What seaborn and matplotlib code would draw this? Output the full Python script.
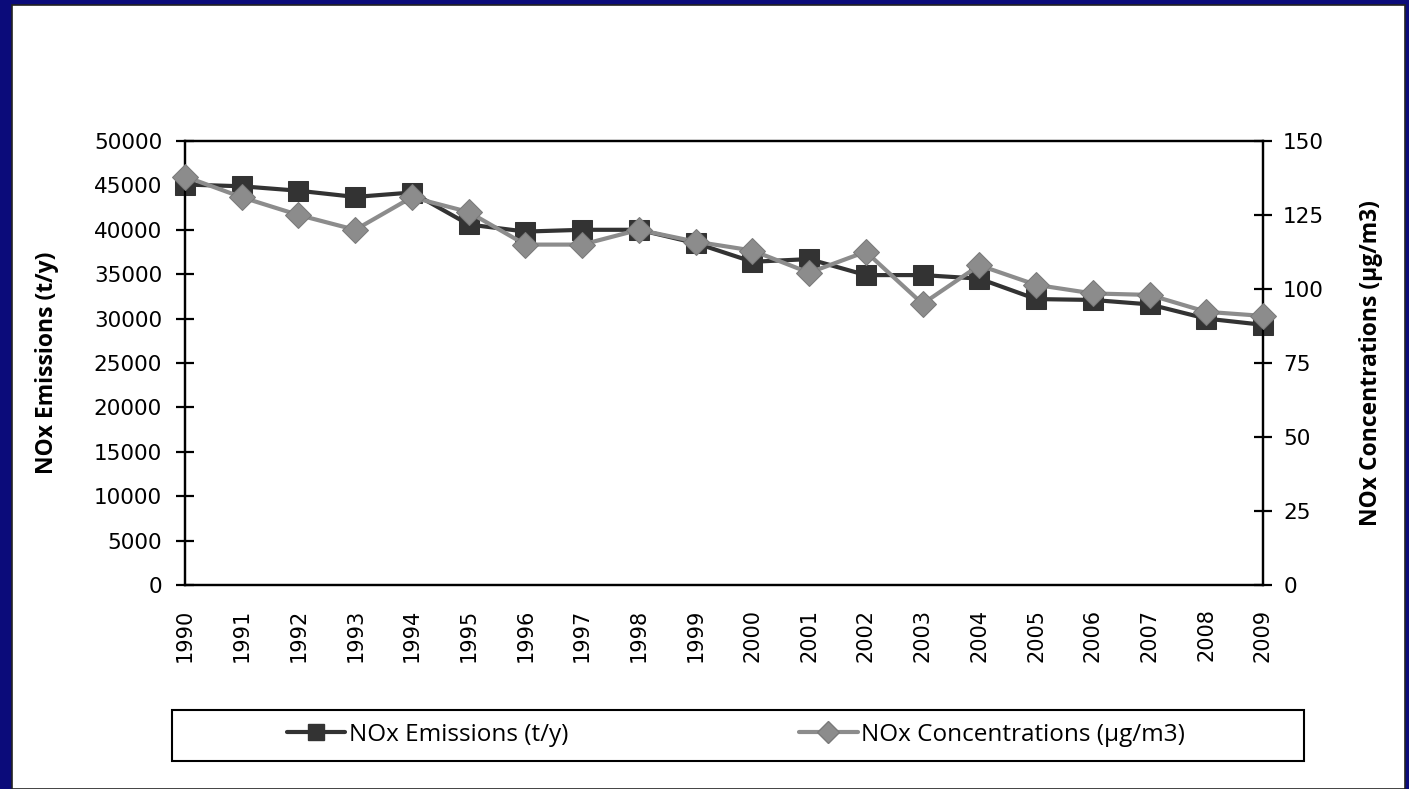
import numpy as np
import pandas as pd
import matplotlib
matplotlib.use("Agg")
import matplotlib.pyplot as plt
from matplotlib.patches import Rectangle
from matplotlib.lines import Line2D
import seaborn as sns

# data
years = list(range(1990, 2010))
emissions = [45100, 44900, 44400, 43700, 44200, 40600, 39800, 40000, 40000, 38500,
             36400, 36700, 34900, 34900, 34500, 32200, 32100, 31600, 30000, 29300]
concentrations = [138, 131, 125, 120, 131, 126, 115, 115, 120, 116,
                  113, 105.5, 112.6, 95, 108, 101.4, 98.5, 98, 92.3, 90.9]

df = pd.DataFrame({'Year': years, 'Emissions': emissions, 'Conc': concentrations})

sns.set_style('white')
plt.rcParams['font.family'] = ['DejaVu Sans']
for k in ['text.color', 'axes.labelcolor', 'xtick.color', 'ytick.color']:
    plt.rcParams[k] = 'black'

fig = plt.figure(figsize=(14.09, 7.89), dpi=100, facecolor='#0b0b7a')
# white slide panel
fig.patches.append(Rectangle((12/1409, 0), 1393/1409, 784/789, transform=fig.transFigure,
                             facecolor='white', edgecolor='#222222', linewidth=1.2, zorder=-10))

ax = fig.add_axes([185/1409, 204/789, 1078/1409, 444/789])
ax.set_facecolor('none')
ax2 = ax.twinx()

sns.lineplot(data=df, x='Year', y='Emissions', ax=ax, color='#333333', linewidth=3,
             marker='s', markersize=14, markeredgecolor='#333333', clip_on=False, zorder=3)
sns.lineplot(data=df, x='Year', y='Conc', ax=ax2, color='#8c8c8c', linewidth=3,
             marker='D', markersize=13, markeredgecolor='#7a7a7a', clip_on=False, zorder=4)

ax.set_xlim(1990, 2009)
ax.set_ylim(0, 50000)
ax2.set_ylim(0, 150)
ax.set_xticks(years)
ax.set_xticklabels([str(y) for y in years], rotation=90, fontsize=15)
ax.set_yticks(range(0, 50001, 5000))
ax.set_yticklabels([str(v) for v in range(0, 50001, 5000)], fontsize=15.5)
ax2.set_yticks(range(0, 151, 25))
ax2.set_yticklabels([str(v) for v in range(0, 151, 25)], fontsize=15.5)

for a in (ax, ax2):
    for s in a.spines.values():
        s.set_color('black')
        s.set_linewidth(1.6)
ax.tick_params(axis='y', direction='inout', length=13, width=1.6, pad=10)
ax2.tick_params(axis='y', direction='inout', length=13, width=1.6, pad=8)
ax.tick_params(axis='x', direction='out', length=7, width=1.6, pad=10)

ax.set_xlabel('')
ax.set_ylabel('NOx Emissions (t/y)', fontsize=16.5, fontweight='bold', family='Open Sans')
ax2.set_ylabel('NOx Concentrations (µg/m3)', fontsize=16.5, fontweight='bold', family='Open Sans',
               rotation=90)
ax.yaxis.set_label_coords(-0.117, 0.5)
ax2.yaxis.set_label_coords(1.089, 0.5)

handles = [Line2D([], [], color='#333333', linewidth=3, marker='s', markersize=12),
           Line2D([], [], color='#8c8c8c', linewidth=3, marker='D', markersize=11,
                  markeredgecolor='#7a7a7a')]
leg = fig.legend(handles, ['NOx Emissions (t/y)', 'NOx Concentrations (µg/m3)'],
                 loc='center', bbox_to_anchor=(736/1409, 1 - 735/789),
                 ncol=2, frameon=False, prop={'family': 'Open Sans', 'size': 17.5},
                 handlelength=2.4, handletextpad=0.15, columnspacing=9.5)
fig.patches.append(Rectangle((172/1409, 1 - 761/789), 1132/1409, 51/789, transform=fig.transFigure,
                             facecolor='none', edgecolor='black', linewidth=1.5, zorder=1))

fig.savefig('out.png', dpi=100, facecolor=fig.get_facecolor())
